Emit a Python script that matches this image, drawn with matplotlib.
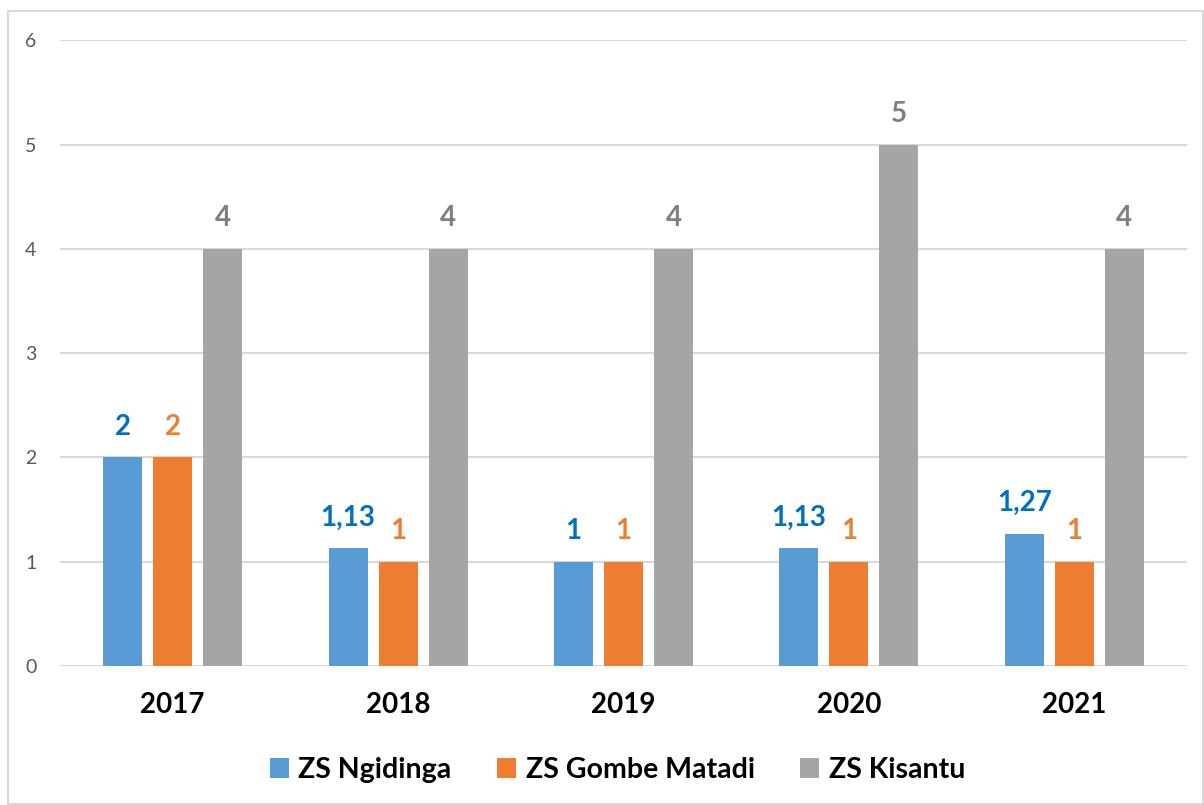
import numpy as np
import matplotlib.pyplot as plt
from matplotlib.patches import Rectangle

years = ["2017", "2018", "2019", "2020", "2021"]
ngidinga = [2, 1.13, 1, 1.13, 1.27]
gombe = [2, 1, 1, 1, 1]
kisantu = [4, 4, 4, 5, 4]
series = ["ZS Ngidinga", "ZS Gombe Matadi", "ZS Kisantu"]

colors = ["#5B9BD5", "#ED7D31", "#A5A5A5"]
label_colors = ["#0070C0", "#ED7D31", "#7F7F7F"]

plt.rcParams['font.family'] = ['Lato', 'DejaVu Sans']

fig = plt.figure(figsize=(12.04, 8.05), dpi=100)
ax = fig.add_axes([0.0498, 0.1727, 0.936, 0.7773])

# chart border
fig.patches.append(Rectangle((8 / 1204, 0.001), 1195 / 1204, 1 - 11 / 805 - 0.001,
                             transform=fig.transFigure, fill=False,
                             edgecolor="#D9D9D9", linewidth=1.5))

x = np.arange(len(years))
w = 0.173
step = 0.222
for i, (vals, name) in enumerate(zip([ngidinga, gombe, kisantu], series)):
    pos = x + (i - 1) * step
    ax.bar(pos, vals, width=w, color=colors[i], label=name, zorder=3)
    for p, v in zip(pos, vals):
        txt = f"{v:g}".replace(".", ",")
        ax.text(p, v + 0.17, txt, ha="center", va="bottom", fontsize=20,
                fontweight="bold", color=label_colors[i])

ax.set_xlim(-0.5, 4.5)
ax.set_ylim(0, 6)
ax.set_yticks(range(7))
ax.grid(axis="y", color="#D9D9D9", linewidth=1.5, zorder=0)
for s in ax.spines.values():
    s.set_visible(False)
ax.tick_params(axis="y", length=0, labelsize=14, labelcolor="#595959", pad=21)
for lab in ax.get_yticklabels():
    lab.set_horizontalalignment("center")
ax.tick_params(axis="x", length=0, pad=19)
ax.set_xticks(x)
ax.set_xticklabels(years, fontsize=20, fontweight="bold")

fig.legend(loc="center", bbox_to_anchor=(0.513, 0.0435), ncol=3,
           frameon=False, prop={"size": 20.5, "weight": "bold"},
           handlelength=0.66, handleheight=0.66, columnspacing=1.6,
           handletextpad=0.34)

fig.savefig("out.png", dpi=100)
